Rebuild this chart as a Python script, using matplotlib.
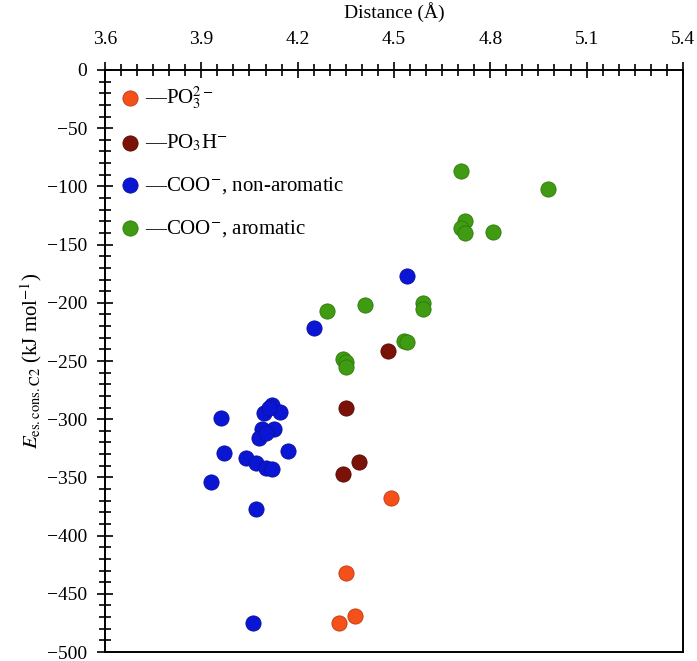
import matplotlib
matplotlib.use("Agg")
import matplotlib.pyplot as plt
from matplotlib.ticker import MultipleLocator

plt.rcParams['font.family'] = ['Liberation Serif', 'DejaVu Serif']
plt.rcParams['mathtext.fontset'] = 'stix'

# Data (distance in Å, energy in kJ/mol)
po3_2_x = [4.49, 4.35, 4.33, 4.38]
po3_2_y = [-368, -432, -475, -469]

po3h_x = [4.48, 4.35, 4.39, 4.34]
po3h_y = [-241, -290, -337, -347]

coo_na_x = [4.54, 4.25, 3.96, 3.97, 3.93, 4.07, 4.17, 4.12, 4.145, 4.095, 4.09, 4.125,
            4.08, 4.04, 4.07, 4.10, 4.12, 4.06, 4.11, 4.10]
coo_na_y = [-177, -222, -299, -329, -354, -377, -327, -288, -294, -295, -308, -308,
            -316, -333, -338, -342, -343, -475, -290, -312]

coo_ar_x = [4.71, 4.98, 4.72, 4.71, 4.72, 4.81, 4.59, 4.59, 4.41, 4.29, 4.53, 4.54,
            4.34, 4.35, 4.35]
coo_ar_y = [-87, -102, -130, -136, -140, -139, -200, -205, -202, -207, -233, -234,
            -248, -251, -255]

labels = [r"—PO$_3^{2-}$", r"—PO$_3$H$^{-}$", r"—COO$^{-}$, non-aromatic", r"—COO$^{-}$, aromatic"]
colors = ['#F5501A', '#7A1208', '#0A16D4', '#3E9B12']
edges = ['#C03A10', '#5A0A04', '#0A10A0', '#2E7A0A']

fig = plt.figure(figsize=(6.97, 6.61), dpi=100)
ax = fig.add_axes([0.1506, 0.0136, 0.8292, 0.8805])

series = [(po3_2_x, po3_2_y), (po3h_x, po3h_y), (coo_na_x, coo_na_y), (coo_ar_x, coo_ar_y)]
for (xs, ys), c, ec, lab in zip(series, colors, edges, labels):
    ax.scatter(xs, ys, s=120, c=c, edgecolors=ec, linewidths=0.6, label=lab, zorder=3)

ax.set_xlim(3.6, 5.4)
ax.set_ylim(-500, 0)
ax.xaxis.set_major_locator(MultipleLocator(0.3))
ax.xaxis.set_minor_locator(MultipleLocator(0.05))
ax.yaxis.set_major_locator(MultipleLocator(50))
ax.yaxis.set_minor_locator(MultipleLocator(10))
ax.xaxis.set_ticks_position('top')
ax.xaxis.set_label_position('top')
ax.tick_params(axis='both', which='major', direction='inout', length=12, width=1.2, labelsize=14)
ax.tick_params(axis='both', which='minor', direction='inout', length=8, width=1.2)
ax.tick_params(axis='x', which='major', pad=10)
ax.tick_params(axis='y', which='major', pad=7)
ax.set_xticklabels([f"{v:.1f}" for v in ax.get_xticks()])
for sp in ax.spines.values():
    sp.set_linewidth(1.4)

ax.set_xlabel("Distance (Å)", fontsize=14, labelpad=9)
ax.set_ylabel(r"$E_{\mathrm{es.cons.C2}}$ (kJ mol$^{-1}$)", fontsize=15, labelpad=2)

leg = ax.legend(loc='upper left', frameon=False, fontsize=15, labelspacing=1.05,
                handletextpad=0.1, borderaxespad=0.2, handlelength=1.2,
                bbox_to_anchor=(0.0, 0.997))

fig.savefig("out.png", dpi=100)
